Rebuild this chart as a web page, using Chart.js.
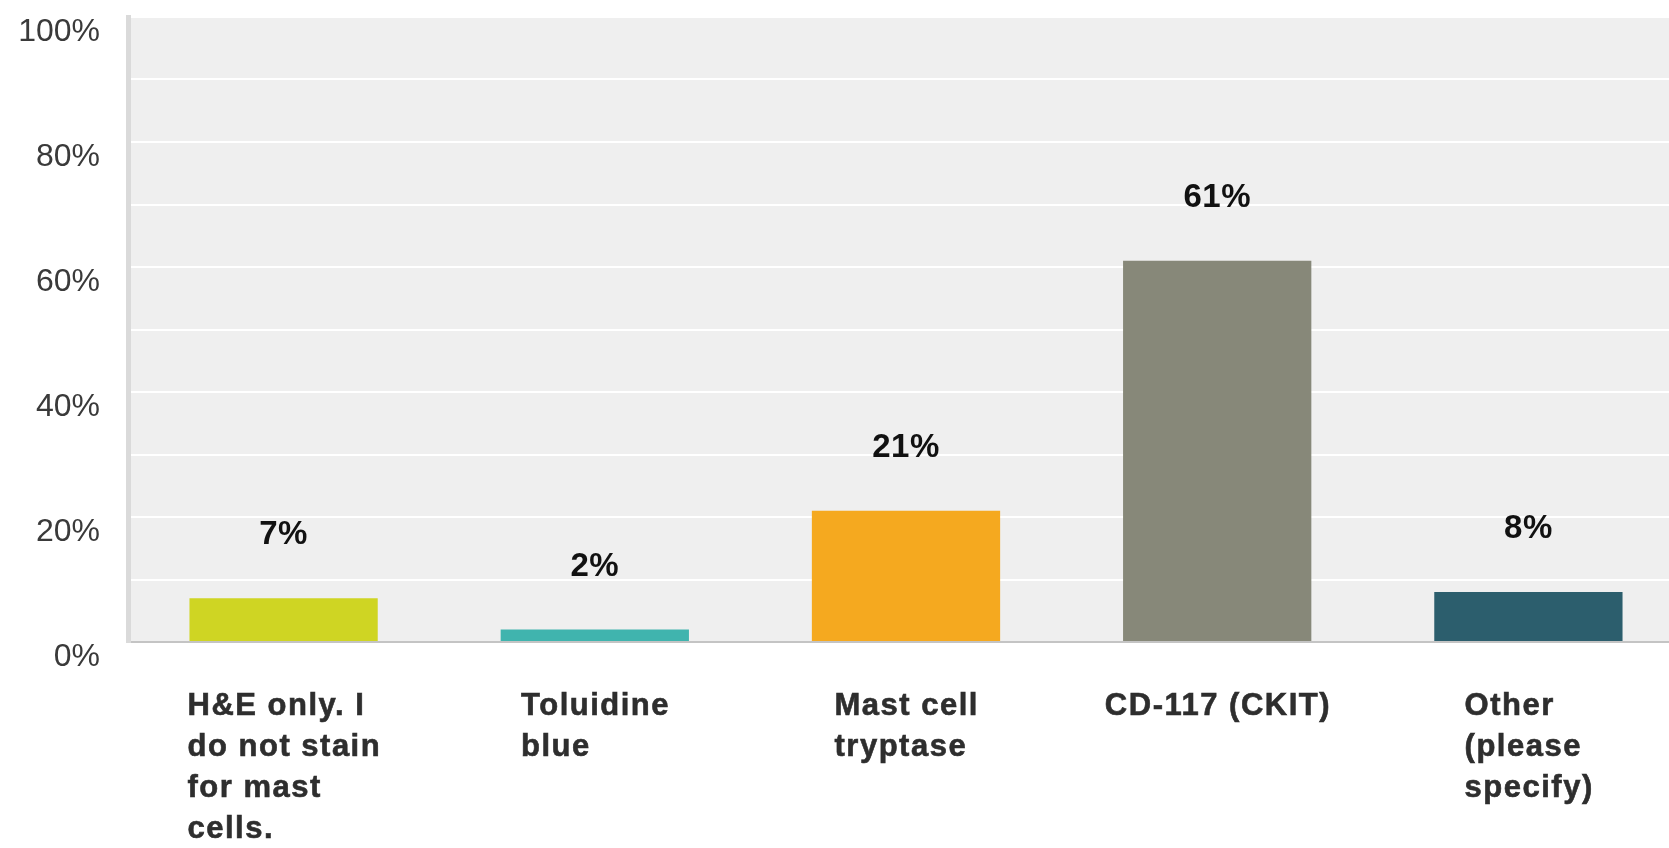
<!DOCTYPE html>
<html>
<head>
<meta charset="utf-8">
<title>Mast cell staining methods</title>
<script src="https://cdn.jsdelivr.net/npm/chart.js@4/dist/chart.umd.min.js"></script>
<style>
  html, body { margin: 0; padding: 0; background: #ffffff; overflow: hidden; }
  #wrap { position: relative; width: 1684px; height: 848px; }
</style>
</head>
<body>
<div id="wrap"><canvas id="chart"></canvas></div>
<script>
// Answer options, one entry per bar, split into the lines they are printed on
const categories = [
  ['H&E only. I', 'do not stain', 'for mast', 'cells.'],
  ['Toluidine', 'blue'],
  ['Mast cell', 'tryptase'],
  ['CD-117 (CKIT)'],
  ['Other', '(please', 'specify)']
];

// Share of respondents (%) for each option
const responsePercent = [7, 2, 21, 61, 8];

// Fill colour of each bar
const barColors = ['#cfd523', '#40b4ae', '#f5a91f', '#878879', '#2c5e6d'];

// Values on the y axis that carry a label (grid lines are every 10%)
const yTickValues = [0, 20, 40, 60, 80, 100];

const FONT = '"Liberation Sans", Arial, Helvetica, sans-serif';

// Light grey panel behind the plot
const plotBackground = {
  id: 'plotBackground',
  beforeDraw(chart) {
    const { ctx, chartArea: a } = chart;
    ctx.save();
    ctx.fillStyle = '#efefef';
    ctx.fillRect(a.left, a.top, a.right - a.left, a.bottom - a.top);
    ctx.restore();
  }
};

// Percentage printed above each bar
const valueLabels = {
  id: 'valueLabels',
  afterDatasetsDraw(chart) {
    const { ctx } = chart;
    const meta = chart.getDatasetMeta(0);
    ctx.save();
    ctx.font = 'bold 33px ' + FONT;
    ctx.letterSpacing = '0.5px';
    ctx.fillStyle = '#111111';
    ctx.textAlign = 'center';
    ctx.textBaseline = 'middle';
    meta.data.forEach((bar, i) => {
      ctx.fillText(responsePercent[i] + '%', bar.x, bar.y - 63);
    });
    ctx.restore();
  }
};

// Category names under the axis: a left-aligned block centred on each bar
const categoryLabels = {
  id: 'categoryLabels',
  afterDraw(chart) {
    const { ctx, chartArea } = chart;
    const xScale = chart.scales.x;
    const spacing = 1.5;
    ctx.save();
    ctx.font = 'bold 31px ' + FONT;
    ctx.letterSpacing = spacing + 'px';
    ctx.fillStyle = '#2e2e2e';
    ctx.strokeStyle = '#2e2e2e';
    ctx.lineWidth = 0.6;
    ctx.textAlign = 'left';
    ctx.textBaseline = 'alphabetic';
    const lineHeight = 41;
    const firstBaseline = chartArea.bottom + 73;
    categories.forEach((lines, i) => {
      const cx = xScale.getPixelForTick(i);
      const blockWidth = Math.max(...lines.map(l => ctx.measureText(l).width)) - spacing;
      const left = cx - blockWidth / 2;
      lines.forEach((line, j) => {
        const y = firstBaseline + j * lineHeight;
        ctx.fillText(line, left, y);
        ctx.strokeText(line, left, y);
      });
    });
    ctx.restore();
  }
};

new Chart(document.getElementById('chart'), {
  type: 'bar',
  data: {
    labels: categories.map(lines => lines.join(' ')),
    datasets: [{
      data: responsePercent,
      backgroundColor: barColors,
      borderWidth: 0,
      barPercentage: 0.605,
      categoryPercentage: 1.0
    }]
  },
  options: {
    responsive: true,
    maintainAspectRatio: false,
    animation: false,
    devicePixelRatio: 1,
    layout: { padding: { top: 17, right: 0, bottom: 0, left: 0 } },
    plugins: {
      legend: { display: false },
      tooltip: { enabled: true }
    },
    scales: {
      x: {
        ticks: { display: false },
        grid: { display: false, drawTicks: false },
        border: { display: true, color: '#c4c4c4', width: 2 },
        afterFit(scale) {
          scale.height = 206;
          scale.paddingLeft = 0;
          scale.paddingRight = 0;
        }
      },
      y: {
        min: 0,
        max: 100,
        ticks: {
          stepSize: 10,
          padding: 28,
          labelOffset: 15,
          color: '#3a3a3a',
          font: { family: FONT, size: 32 },
          callback: v => (yTickValues.includes(v) ? v + '%' : '')
        },
        grid: {
          drawTicks: false,
          lineWidth: 2,
          color: ctx => (ctx.tick && ctx.tick.value === 0 ? 'rgba(0,0,0,0)' : '#ffffff')
        },
        border: { display: true, color: '#dadada', width: 5 },
        afterFit(scale) {
          scale.width = 128;
          scale.paddingTop = 0;
          scale.paddingBottom = 0;
        }
      }
    }
  },
  plugins: [plotBackground, valueLabels, categoryLabels]
});
</script>
</body>
</html>
